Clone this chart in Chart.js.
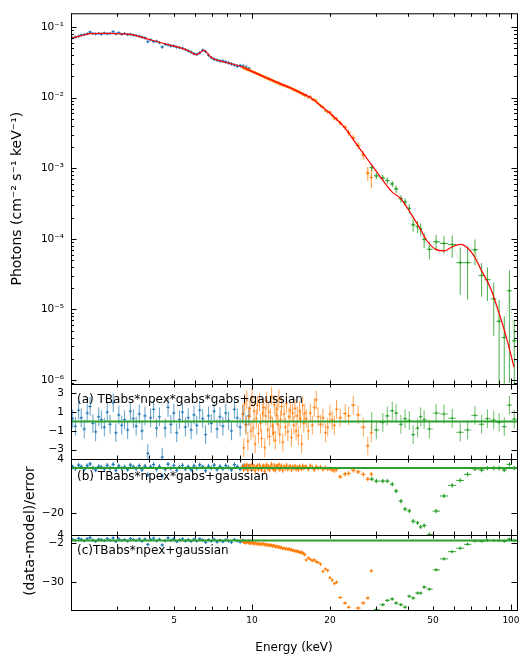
<!DOCTYPE html>
<html>
<head>
<meta charset="utf-8">
<script src="https://cdn.jsdelivr.net/npm/chart.js@4.4.0/dist/chart.umd.min.js"></script>
<style>
  html, body { margin: 0; padding: 0; background: #fff; }
  #wrap { position: relative; width: 528px; height: 662px; }
  #wrap canvas { position: absolute; left: 0; top: 0; }
</style>
</head>
<body>
<div id="wrap">
  <canvas id="cSpec" width="528" height="662"></canvas>
  <canvas id="cA" width="528" height="662"></canvas>
  <canvas id="cB" width="528" height="662"></canvas>
  <canvas id="cC" width="528" height="662"></canvas>
</div>
<script>
// ---- soft band (blue) ----
const blueE = [2.03, 2.08, 2.14, 2.19, 2.25, 2.31, 2.37, 2.43, 2.49, 2.56,
  2.62, 2.69, 2.76, 2.83, 2.91, 2.98, 3.06, 3.14, 3.22, 3.31,
  3.39, 3.48, 3.57, 3.67, 3.76, 3.86, 3.96, 4.06, 4.17, 4.28,
  4.39, 4.50, 4.62, 4.74, 4.86, 4.99, 5.12, 5.25, 5.39, 5.53,
  5.67, 5.82, 5.97, 6.12, 6.28, 6.45, 6.62, 6.79, 6.96, 7.14,
  7.33, 7.52, 7.72, 7.92, 8.12, 8.33, 8.55, 8.77, 9.00, 9.24,
  9.48, 9.73];
const blueF = [0.070, 0.072, 0.074, 0.077, 0.078, 0.080, 0.085, 0.081, 0.080, 0.081,
  0.079, 0.082, 0.080, 0.081, 0.086, 0.080, 0.083, 0.079, 0.081, 0.078,
  0.079, 0.077, 0.076, 0.074, 0.072, 0.070, 0.062, 0.066, 0.062, 0.063,
  0.060, 0.052, 0.057, 0.056, 0.054, 0.054, 0.052, 0.051, 0.050, 0.048,
  0.046, 0.044, 0.042, 0.041, 0.043, 0.047, 0.045, 0.040, 0.037, 0.035,
  0.034, 0.033, 0.033, 0.032, 0.031, 0.030, 0.029, 0.028, 0.0285, 0.028,
  0.027, 0.0258];
const blueErr = [0.035, 0.035, 0.034, 0.034, 0.034, 0.034, 0.033, 0.034, 0.034, 0.034,
  0.034, 0.034, 0.035, 0.035, 0.035, 0.035, 0.035, 0.036, 0.036, 0.036,
  0.036, 0.037, 0.037, 0.037, 0.038, 0.038, 0.038, 0.039, 0.039, 0.040,
  0.040, 0.041, 0.041, 0.042, 0.042, 0.043, 0.043, 0.044, 0.044, 0.045,
  0.045, 0.046, 0.047, 0.047, 0.048, 0.048, 0.049, 0.050, 0.051, 0.052,
  0.052, 0.053, 0.054, 0.055, 0.056, 0.057, 0.058, 0.059, 0.060, 0.061,
  0.062, 0.063];
const blueResA = [0.3, -0.5, 1.2, 0.4, -0.8, 0.9, 1.6, -0.2, -1.1, 0.5,
  0.2, -0.6, 1.0, -0.3, 2.0, -1.2, 0.7, -0.4, 0.2, -0.9,
  1.1, 0.3, -0.5, 0.8, -1.0, 0.6, -3.4, 0.4, 1.3, -0.7,
  0.5, -3.8, -0.7, 1.5, -0.3, 0.9, -1.2, 0.2, 1.0, -0.6,
  0.4, -0.9, 0.7, -0.4, 1.2, 0.3, -1.4, 0.6, -0.2, 1.1,
  -0.8, 0.5, -0.5, 0.9, 0.1, -1.0, 1.3, 0.4, -0.6, 0.8,
  -0.3, 0.6];
const blueResB = [0.5, -0.3, 1.3, 0.6, -0.6, 1.0, 1.8, 0.0, -0.9, 0.7,
  0.4, -0.4, 1.2, -0.1, 1.6, -1.0, 0.9, -0.2, 0.4, -0.7,
  1.3, 0.5, -0.3, 1.0, -0.8, 0.8, -3.0, 0.6, 1.5, -0.5,
  0.7, -3.5, -0.5, 1.7, -0.1, 1.1, -1.0, 0.4, 1.2, -0.4,
  0.6, -0.7, 0.9, -0.2, 1.4, 0.5, -1.2, 0.8, 0.0, 1.3,
  -0.6, 0.7, -0.3, 1.1, 0.3, -0.8, 1.5, 0.6, -0.4, 1.0,
  -0.1, 0.8];
const blueResC = [0.8, 0.1, 1.6, 0.9, -0.2, 1.3, 2.0, 0.3, -0.6, 0.9,
  0.6, -0.1, 1.4, 0.2, 1.8, -0.7, 1.1, 0.1, 0.6, -0.4,
  1.5, 0.7, 0.0, 1.2, -0.5, 1.0, -2.8, 0.8, 1.7, -0.2,
  0.9, -3.2, -0.2, 1.9, 0.2, 1.2, -0.8, 0.5, 1.3, -0.3,
  0.6, -0.6, 0.9, -0.3, 1.2, 0.4, -1.3, 0.5, -0.4, 0.9,
  -1.0, 0.2, -0.8, 0.5, -0.3, -1.3, 0.8, -0.2, -1.0, 0.2,
  -0.9, -0.3];

// ---- medium band (orange) ----
const orangeE = [9.20, 9.29, 9.37, 9.46, 9.55, 9.64, 9.73, 9.82, 9.91, 10.00,
  10.10, 10.19, 10.29, 10.39, 10.49, 10.59, 10.69, 10.79, 10.89, 11.0,
  11.1, 11.2, 11.3, 11.4, 11.5, 11.6, 11.7, 11.8, 11.9, 12.0,
  12.1, 12.2, 12.3, 12.4, 12.5, 12.6, 12.7, 12.8, 12.9, 13.0,
  13.15, 13.3, 13.45, 13.6, 13.75, 13.9, 14.05, 14.2, 14.35, 14.5,
  14.65, 14.8, 14.95, 15.1, 15.25, 15.4, 15.55, 15.7, 15.85, 16.0,
  16.2, 16.5, 16.8, 17.1, 17.4, 17.7, 18.0, 18.4, 18.8, 19.2,
  19.6, 20.0, 20.4, 20.8, 21.2, 21.9, 22.9, 23.6, 24.6, 25.7,
  26.9, 28.0, 28.9];
const orangeF = [0.0270, 0.0261, 0.0263, 0.0253, 0.0256, 0.0246, 0.0248, 0.0240, 0.0239, 0.0234,
  0.0233, 0.0226, 0.0227, 0.0218, 0.0220, 0.0213, 0.0212, 0.0207, 0.0206, 0.0200,
  0.0199, 0.0192, 0.0195, 0.0189, 0.0188, 0.0182, 0.0185, 0.0178, 0.0178, 0.0173,
  0.0174, 0.0169, 0.0168, 0.0164, 0.0165, 0.0160, 0.0161, 0.0156, 0.0155, 0.0154,
  0.0150, 0.0149, 0.0146, 0.0144, 0.0142, 0.0139, 0.0139, 0.0134, 0.0133, 0.0129,
  0.0129, 0.0125, 0.0124, 0.0120, 0.0120, 0.0116, 0.0115, 0.0112, 0.0110, 0.0107,
  0.0108, 0.0101, 0.0103, 0.0094, 0.0093, 0.0090, 0.0083, 0.0077, 0.0073, 0.0066,
  0.0063, 0.0062, 0.0056, 0.0051, 0.0050, 0.0044, 0.0038, 0.0032, 0.0027, 0.0021,
  0.00155, 0.00085, 0.00074];
const orangeErr = [0.025, 0.025, 0.025, 0.026, 0.026, 0.026, 0.027, 0.027, 0.027, 0.028,
  0.028, 0.028, 0.029, 0.029, 0.029, 0.030, 0.030, 0.030, 0.031, 0.031,
  0.031, 0.032, 0.032, 0.032, 0.033, 0.033, 0.033, 0.034, 0.034, 0.034,
  0.035, 0.035, 0.035, 0.036, 0.036, 0.036, 0.037, 0.037, 0.037, 0.038,
  0.038, 0.038, 0.039, 0.039, 0.039, 0.040, 0.040, 0.040, 0.041, 0.041,
  0.041, 0.042, 0.042, 0.042, 0.043, 0.043, 0.043, 0.044, 0.044, 0.045,
  0.04, 0.04, 0.04, 0.045, 0.045, 0.05, 0.05, 0.05, 0.055, 0.06,
  0.06, 0.06, 0.07, 0.07, 0.07, 0.08, 0.09, 0.1, 0.1, 0.12,
  0.14, 0.22, 0.3];
const orangeResA = [0.8, -2.8, 1.9, -0.4, 2.3, -2.1, 0.5, 1.4, -1.0, 2.6,
  -0.7, 1.1, -2.4, 0.3, 1.7, -1.3, 2.0, -0.2, -1.8, 0.9,
  1.5, -2.8, 0.6, 2.2, -0.9, 1.0, -1.6, 0.4, 2.7, -0.5,
  -1.2, 1.8, -2.0, 0.7, 1.3, -0.3, 2.4, -1.4, 0.2, 1.6,
  -2.2, 0.8, -0.6, 1.9, -1.1, 0.5, 1.2, -1.7, 0.9, -0.4,
  1.4, -1.0, 0.6, -1.5, 1.1, 0.3, -2.4, 1.7, -0.2, 0.9,
  0.3, -1.0, 0.9, -0.4, 1.5, 2.3, 0.5, -0.3, 0.4, -1.2,
  -0.6, 0.8, 0.15, -0.4, 1.3, 0.4, 0.85, 0.6, 1.75, 0.7,
  -0.6, -2.6, -1.2];
const orangeResB = [0.6, -0.8, 1.2, 0.1, 1.4, -1.0, 0.5, 0.9, -0.4, 1.6,
  -0.2, 0.8, -1.2, 0.4, 1.1, -0.6, 1.3, 0.1, -0.9, 0.7,
  1.0, -1.4, 0.5, 1.4, -0.3, 0.7, -0.8, 0.4, 1.7, 0.0,
  -0.6, 1.2, -1.0, 0.6, 0.9, 0.0, 1.5, -0.7, 0.3, 1.0,
  -1.1, 0.6, -0.2, 1.2, -0.5, 0.4, 0.8, -0.9, 0.6, -0.1,
  0.9, -0.5, 0.4, -0.8, 0.7, 0.2, -0.4, 1.0, -0.1, 0.5,
  0.5, -0.5, 1.0, 0.3, -0.8, 0.6, -0.2, 0.4, -0.6, 0.2,
  -0.4, -0.3, -0.8, -1.2, -0.6, -3.9, -2.7, -2.4, -1.0, -1.7,
  -2.8, -4.9, -2.7];
const orangeResC = [-0.6, -1.4, -0.9, -1.8, -1.2, -0.7, -1.9, -1.5, -2.2, -1.3,
  -1.8, -2.5, -1.6, -2.1, -2.7, -1.9, -2.4, -3.0, -2.2, -2.6,
  -2.4, -3.1, -2.7, -3.4, -2.9, -3.3, -3.8, -3.0, -3.6, -4.1,
  -3.4, -3.9, -4.4, -4.0, -4.7, -4.3, -5.0, -4.6, -5.3, -5.0,
  -5.8, -5.5, -6.1, -5.7, -6.4, -6.0, -6.8, -6.5, -7.1, -7.2,
  -7.6, -7.3, -8.0, -7.8, -8.4, -8.7, -8.3, -9.1, -9.5, -10.2,
  -14.0, -12.5, -13.5, -14.5, -13.9, -15.2, -15.8, -17.0, -22.3, -20.5,
  -21.5, -26.8, -28.5, -31.0, -30.0, -41.0, -45.0, -48.0, -55.0, -48.6,
  -45.0, -41.4, -21.8];

// ---- hard band (green) ----
const greenE = [29.0, 30.2, 32.0, 33.3, 34.8, 36.0, 37.6, 39.0, 40.5, 41.9,
  43.6, 44.8, 46.2, 48.4, 51.4, 55.1, 59.3, 63.7, 68.0, 72.6,
  77.0, 81.1, 85.8, 90.0, 94.2, 98.6, 103.0];
const greenF = [1.02e-3, 7.8e-4, 7.3e-4, 6.7e-4, 6.0e-4, 5.1e-4, 3.7e-4, 3.34e-4, 2.7e-4, 1.58e-4,
  1.5e-4, 1.38e-4, 9.8e-5, 7.1e-5, 9.1e-5, 8.6e-5, 8.3e-5, 4.6e-5, 4.6e-5, 7.0e-5,
  3.03e-5, 2.64e-5, 1.41e-5, 6.8e-6, 4.0e-6, 1.84e-5, 3.6e-6];
const greenErr = [0.1, 0.1, 0.1, 0.1, 0.1, 0.12, 0.12, 0.12, 0.15, 0.2,
  0.2, 0.2, 0.25, 0.28, 0.25, 0.28, 0.35, 0.65, 0.7, 0.4,
  0.5, 0.5, 0.7, 1.0, 1.0, 0.95, 1.0];
const greenResA = [0.0, -0.9, -0.1, 0.6, 1.15, 0.9, -0.3, 0.3, 0.1, -1.4,
  -0.7, 0.5, 0.2, -0.8, 0.9, 0.8, 0.35, -1.15, -0.9, 0.65,
  -0.3, 0.3, 0.15, -0.1, -0.55, 1.75, 0.25];
const greenResB = [-4.9, -5.8, -5.8, -5.8, -7.2, -10.2, -14.7, -18.2, -19.0, -23.6,
  -24.3, -26.1, -25.5, -29.5, -19.1, -12.4, -7.7, -5.5, -2.8, -0.4,
  -0.9, -0.1, -0.1, -0.1, -0.9, 1.6, -0.1];
const greenResC = [-53.0, -49.8, -46.2, -43.1, -42.1, -45.0, -46.2, -47.9, -40.1, -41.4,
  -37.8, -37.8, -33.5, -35.0, -21.1, -13.2, -8.0, -5.5, -2.7, -0.3,
  -0.5, 0.2, 0.0, 0.0, -0.4, 1.0, 0.0];

// ---- best-fit model (red) ----
const modelE = [2.0, 2.17, 2.37, 2.6, 2.83, 3.1, 3.38, 3.7, 4.04, 4.61,
  5.27, 5.76, 6.08, 6.30, 6.53, 6.76, 7.01, 7.52, 8.2, 8.99,
  10.0, 11.12, 12.5, 14.02, 15.3, 16.74, 18.3, 20.0, 22.86, 25.4,
  28.3, 31.2, 34.7, 37.5, 41.0, 44.8, 47.4, 51.2, 55.1, 59.3,
  64.0, 67.8, 71.9, 76.4, 83.5, 91.2, 96.8, 102.7];
const modelF = [0.0688, 0.075, 0.0807, 0.0815, 0.0812, 0.080, 0.0787, 0.073, 0.066, 0.058,
  0.0511, 0.045, 0.0405, 0.0435, 0.0469, 0.0415, 0.0363, 0.0332, 0.0305, 0.0278,
  0.0235, 0.0198, 0.0165, 0.0138, 0.0119, 0.0101, 0.0078, 0.0060, 0.00371, 0.00216,
  0.00125, 0.00077, 0.000464, 0.000372, 0.00023, 0.000135, 9.4e-5, 7.1e-5, 6.75e-5, 7.74e-5,
  8.34e-5, 7.5e-5, 5.8e-5, 3.75e-5, 1.98e-5, 7.57e-6, 3.6e-6, 1.53e-6];

// ---- axes ----
const xLabelTicks = [5, 10, 20, 50, 100];
const specTicks = [1e-6, 1e-5, 1e-4, 1e-3, 1e-2, 1e-1];
const specTickText = ['10⁻⁶', '10⁻⁵', '10⁻⁴', '10⁻³', '10⁻²', '10⁻¹'];
const resTicksA = [3, 1, -1, -3];
const resTicksB = [4, -20];
const resTicksC = [4, -2, -30];
const panelNames = ['(a) TBabs*npex*gabs*gabs+gaussian', '(b) TBabs*npex*gabs+gaussian', '(c)TBabs*npex+gaussian'];

const BLUE = [31, 119, 180], ORANGE = [255, 127, 14], GREEN = [44, 160, 44];
const rgba = (c, a) => `rgba(${c[0]},${c[1]},${c[2]},${a})`;

Chart.defaults.font.family = '"DejaVu Sans", sans-serif';
Chart.defaults.color = '#000';

// tick marks (pointing inwards on all four sides)
const xMarks = [];
[2, 3, 4, 5, 6, 7, 8, 9, 20, 30, 40, 50, 60, 70, 80, 90].forEach(v => xMarks.push([v, 3.5]));
[10, 100].forEach(v => xMarks.push([v, 5.5]));
const specMarks = [];
for (let d = -7; d <= -1; d++) {
  specMarks.push([Math.pow(10, d), 5.5]);
  for (let k = 2; k <= 9; k++) specMarks.push([k * Math.pow(10, d), 3]);
}

const framePlugin = {
  id: 'frame',
  afterDatasetsDraw(chart, args, o) {
    const {ctx, chartArea: a} = chart;
    const xs = chart.scales.x, ys = chart.scales.y;
    ctx.save();
    ctx.strokeStyle = '#000';
    ctx.lineWidth = 1;
    ctx.beginPath();
    for (const [v, len] of o.xt) {
      const p = Math.round(xs.getPixelForValue(v)) + 0.5;
      if (p < a.left || p > a.right) continue;
      ctx.moveTo(p, a.top); ctx.lineTo(p, a.top + len);
      ctx.moveTo(p, a.bottom); ctx.lineTo(p, a.bottom - len);
    }
    for (const [v, len] of o.yt) {
      const p = Math.round(ys.getPixelForValue(v)) + 0.5;
      if (p < a.top - 1 || p > a.bottom + 1) continue;
      ctx.moveTo(a.left, p); ctx.lineTo(a.left + len, p);
      ctx.moveTo(a.right, p); ctx.lineTo(a.right - len, p);
    }
    ctx.stroke();
    ctx.strokeRect(a.left + 0.5, a.top + 0.5, a.right - a.left, a.bottom - a.top);
    ctx.fillStyle = '#000';
    if (o.label) {
      ctx.font = '12px "DejaVu Sans"';
      ctx.textAlign = 'left';
      ctx.textBaseline = 'alphabetic';
      ctx.fillText(o.label, a.left + 6, a.top + o.labelDy);
    }
    if (o.sideTitle) {
      ctx.font = '14px "DejaVu Sans"';
      ctx.translate(o.sideTitle.x, o.sideTitle.y);
      ctx.rotate(-Math.PI / 2);
      ctx.textAlign = 'center';
      ctx.textBaseline = 'middle';
      ctx.fillText(o.sideTitle.text, 0, 0);
    }
    ctx.restore();
  }
};

function pts(E, Y) { return E.map((e, i) => ({x: e, y: Y[i]})); }

// bin edges halfway (in log) between neighbouring channels
function edgesOf(E) {
  const lo = [], hi = [];
  for (let i = 0; i < E.length; i++) {
    const prev = i > 0 ? E[i - 1] : E[i] * E[i] / E[i + 1];
    const next = i < E.length - 1 ? E[i + 1] : E[i] * E[i] / E[i - 1];
    lo.push(Math.sqrt(prev * E[i]));
    hi.push(Math.sqrt(E[i] * next));
  }
  return {lo, hi};
}

function barData(E, Y, lo, hi) {
  const ed = edgesOf(E);
  const out = [];
  E.forEach((e, i) => {
    out.push({x: e, y: lo[i]}, {x: e, y: hi[i]}, {x: e, y: null});
    out.push({x: ed.lo[i], y: Y[i]}, {x: ed.hi[i], y: Y[i]}, {x: ed.hi[i], y: null});
  });
  return out;
}

function specGroup(E, F, R, col, order) {
  const bars = barData(E, F, F.map((f, i) => Math.max(f * (1 - R[i]), 1e-9)), F.map((f, i) => f * (1 + R[i])));
  return [
    {data: bars, showLine: true, borderColor: rgba(col, 0.85), borderWidth: 1, pointRadius: 0, order: order},
    {data: pts(E, F), showLine: true, borderColor: rgba(col, 0.45), borderWidth: 0.8, borderDash: [1.5, 1.5],
     pointStyle: 'cross', pointRadius: 1.5, pointBorderColor: rgba(col, 0.9), pointBorderWidth: 1, order: order + 0.5}
  ];
}

function resGroup(E, V, col, alpha, order) {
  const bars = barData(E, V, V.map(v => v - 1), V.map(v => v + 1));
  return [
    {data: bars, showLine: true, borderColor: rgba(col, alpha), borderWidth: 1, pointRadius: 0, order: order},
    {data: pts(E, V), showLine: false, pointStyle: 'cross', pointRadius: 1.5,
     pointBorderColor: rgba(col, alpha), pointBorderWidth: 1, order: order}
  ];
}

function zeroLine() {
  return {data: [{x: 1.5, y: 0}, {x: 120, y: 0}], showLine: true, borderColor: rgba(GREEN, 1),
          borderWidth: 2, pointRadius: 0, order: 0};
}

function makeChart(id, cfg) {
  return new Chart(document.getElementById(id), {
    type: 'scatter',
    data: {datasets: cfg.datasets},
    options: {
      responsive: false,
      animation: false,
      events: [],
      layout: {padding: {left: 0, right: 11, top: cfg.top, bottom: cfg.bottom}},
      plugins: {
        legend: {display: false},
        tooltip: {enabled: false},
        frame: cfg.frame
      },
      scales: {
        x: {
          type: 'logarithmic', min: 2.0, max: 105.5,
          display: !!cfg.showX,
          afterFit: s => { if (cfg.showX) s.height = 52; },
          afterBuildTicks: s => { s.ticks = xLabelTicks.map(v => ({value: v})); },
          grid: {display: false, drawTicks: false},
          border: {display: false},
          ticks: {autoSkip: false, maxRotation: 0, padding: 5, font: {size: 9}, callback: v => String(v)},
          title: {display: true, text: 'Energy (keV)', font: {size: 12}, padding: {top: 0, bottom: 7}}
        },
        y: {
          type: cfg.yType, min: cfg.yMin, max: cfg.yMax,
          afterFit: s => { s.width = 71; },
          afterBuildTicks: s => { s.ticks = cfg.yTicks.map(v => ({value: v})); },
          grid: {display: false, drawTicks: false},
          border: {display: false},
          ticks: {autoSkip: false, padding: 7, font: {size: 10.5}, callback: cfg.yLabel},
          title: cfg.yTitle || {display: false}
        }
      }
    },
    plugins: [framePlugin]
  });
}

const minusLabel = v => String(v).replace('-', '\u2212');

makeChart('cSpec', {
  top: 6, bottom: 662 - 384,
  yType: 'logarithmic', yMin: 8.8e-7, yMax: 0.1565,
  yTicks: specTicks,
  yLabel: (v, i) => specTickText[i],
  yTitle: {display: true, text: 'Photons (cm⁻² s⁻¹ keV⁻¹)', font: {size: 14}, padding: {top: 8.5, bottom: 0}},
  frame: {xt: xMarks, yt: specMarks},
  datasets: [
    {data: pts(modelE, modelF), showLine: true, borderColor: '#ff0000', borderWidth: 1.2, pointRadius: 0,
     cubicInterpolationMode: 'monotone', order: 0},
    ...specGroup(greenE, greenF, greenErr, GREEN, 1),
    ...specGroup(orangeE, orangeF, orangeErr, ORANGE, 2),
    ...specGroup(blueE, blueF, blueErr, BLUE, 3)
  ]
});

makeChart('cA', {
  top: 384, bottom: 662 - 459,
  yType: 'linear', yMin: -4, yMax: 4,
  yTicks: resTicksA, yLabel: minusLabel,
  frame: {xt: xMarks, yt: resTicksA.map(v => [v, 5.5]), label: panelNames[0], labelDy: 19},
  datasets: [zeroLine(), ...resGroup(greenE, greenResA, GREEN, 0.7, 1),
             ...resGroup(orangeE, orangeResA, ORANGE, 0.7, 2), ...resGroup(blueE, blueResA, BLUE, 0.7, 3)]
});

makeChart('cB', {
  top: 459, bottom: 662 - 535,
  yType: 'linear', yMin: -29.7, yMax: 4,
  yTicks: resTicksB, yLabel: minusLabel,
  frame: {xt: xMarks, yt: resTicksB.map(v => [v, 5.5]), label: panelNames[1], labelDy: 21,
          sideTitle: {text: '(data-model)/error', x: 30, y: 531}},
  datasets: [zeroLine(), ...resGroup(greenE, greenResB, GREEN, 0.95, 1),
             ...resGroup(orangeE, orangeResB, ORANGE, 0.95, 2), ...resGroup(blueE, blueResB, BLUE, 0.95, 3)]
});

makeChart('cC', {
  top: 535, bottom: 0, showX: true,
  yType: 'linear', yMin: -50, yMax: 4,
  yTicks: resTicksC, yLabel: minusLabel,
  frame: {xt: xMarks, yt: resTicksC.map(v => [v, 5.5]), label: panelNames[2], labelDy: 19},
  datasets: [zeroLine(), ...resGroup(greenE, greenResC, GREEN, 0.95, 1),
             ...resGroup(orangeE, orangeResC, ORANGE, 0.95, 2), ...resGroup(blueE, blueResC, BLUE, 0.95, 3)]
});
</script>
</body>
</html>
